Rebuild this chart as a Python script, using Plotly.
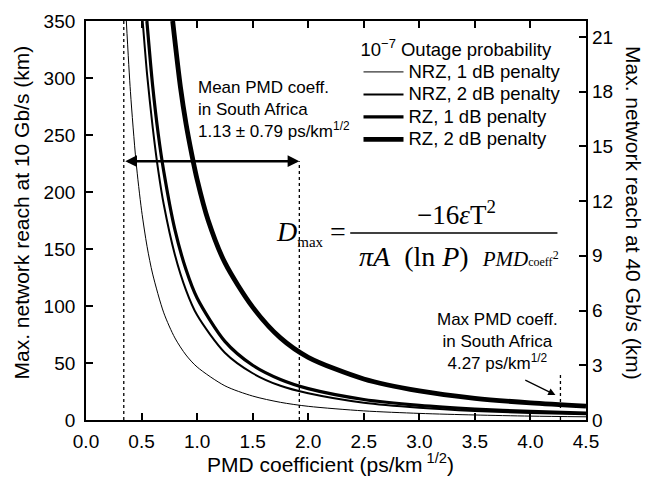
import plotly.graph_objects as go

# ---------------- data ----------------
pmd_nrz1 = [0.363, 0.40, 0.45, 0.50, 0.55, 0.60, 0.70, 0.80, 0.90, 1.00, 1.25, 1.50, 1.75, 2.00, 2.50, 3.00, 3.50, 4.00, 4.50]
reach_nrz1 = [350, 288, 227, 184, 152, 128, 94, 72, 57, 46.5, 30, 21, 15.5, 12, 8, 5.8, 4.4, 3.4, 2.8]

pmd_nrz2 = [0.510, 0.55, 0.60, 0.65, 0.70, 0.80, 0.90, 1.00, 1.25, 1.50, 1.75, 2.00, 2.50, 3.00, 3.50, 4.00, 4.50]
reach_nrz2 = [350, 303, 257, 219, 189, 145, 114, 92, 59, 41, 30, 23.5, 15.2, 10.8, 8.0, 6.2, 5.0]

pmd_rz1 = [0.548, 0.60, 0.65, 0.70, 0.80, 0.90, 1.00, 1.25, 1.50, 1.75, 2.00, 2.50, 3.00, 3.50, 4.00, 4.50]
reach_rz1 = [350, 293, 251, 218, 167, 132, 107, 69, 48, 35.5, 27.5, 18, 12.8, 9.6, 7.5, 6.0]

pmd_rz2 = [0.780, 0.85, 0.90, 0.95, 1.00, 1.10, 1.25, 1.50, 1.75, 2.00, 2.50, 3.00, 3.50, 4.00, 4.50]
reach_rz2 = [350, 292, 260, 234, 211, 175, 138, 99, 72, 55, 36, 25.5, 19, 15, 12.2]

series_names = ["NRZ, 1 dB penalty", "NRZ, 2 dB penalty", "RZ, 1 dB penalty", "RZ, 2 dB penalty"]

mean_pmd = 1.13
std_pmd = 0.79
max_pmd = 4.27
arrow_level = 227      # km, level of the mean +/- std arrow
max_line_top = 42      # km, top of the max-PMD dotted marker

x_ticks = [0.0, 0.5, 1.0, 1.5, 2.0, 2.5, 3.0, 3.5, 4.0, 4.5]
x_ticklabels = ["0.0", "0.5", "1.0", "1.5", "2.0", "2.5", "3.0", "3.5", "4.0", "4.5"]
y_ticks = [0, 50, 100, 150, 200, 250, 300, 350]
y2_ticks = [0, 3, 6, 9, 12, 15, 18, 21]
reach_ratio = 16       # 40 Gb/s reach = 10 Gb/s reach / 16

# ---------------- styling ----------------
SANS = "Liberation Sans, Arial, Helvetica, sans-serif"
SERIF = "Liberation Serif, Times New Roman, serif"
widths = [1.0, 2.0, 3.2, 4.8]

fig = go.Figure()

for xs, ys, name, w in zip([pmd_nrz1, pmd_nrz2, pmd_rz1, pmd_rz2],
                           [reach_nrz1, reach_nrz2, reach_rz1, reach_rz2],
                           series_names, widths):
    fig.add_trace(go.Scatter(x=xs, y=ys, mode="lines",
                             name="<span style='font-size:18.5px'>" + name + "</span>",
                             line=dict(color="black", width=w, shape="spline", smoothing=0.8)))

lo = mean_pmd - std_pmd
hi = mean_pmd + std_pmd
dot = dict(color="black", width=1.3, dash="dot")
fig.add_trace(go.Scatter(x=[lo, lo], y=[0, 350], mode="lines", line=dot, showlegend=False, hoverinfo="skip"))
fig.add_trace(go.Scatter(x=[hi, hi], y=[0, arrow_level], mode="lines", line=dot, showlegend=False, hoverinfo="skip"))
fig.add_trace(go.Scatter(x=[max_pmd, max_pmd], y=[0, max_line_top], mode="lines", line=dot, showlegend=False, hoverinfo="skip"))

# invisible trace for the right-hand axis
fig.add_trace(go.Scatter(x=[0, 4.5], y=[0, 350 / reach_ratio], yaxis="y2", mode="lines",
                         line=dict(width=0, color="rgba(0,0,0,0)"), showlegend=False, hoverinfo="skip"))

annotations = []
# mean +/- std double arrow
annotations.append(dict(x=hi, y=arrow_level, ax=lo, ay=arrow_level, xref="x", yref="y", axref="x", ayref="y",
                        text="", showarrow=True, arrowhead=2, startarrowhead=2, arrowside="end+start",
                        arrowwidth=2.6, arrowsize=0.9, startarrowsize=0.9, arrowcolor="black"))
# mean text
annotations.append(dict(x=1.0, y=301, xref="x", yref="y", xanchor="left", yanchor="top", align="left",
                        showarrow=False, borderpad=0,
                        text="Mean PMD coeff.<br>in South Africa<br>1.13 ± 0.79 ps/km<sup>1/2</sup>",
                        font=dict(family=SANS, size=17, color="black")))
# max text
annotations.append(dict(x=3.70, y=97, xref="x", yref="y", xanchor="center", yanchor="top", align="center",
                        showarrow=False, borderpad=0,
                        text="Max PMD coeff.<br>in South Africa<br>4.27 ps/km<sup>1/2</sup>",
                        font=dict(family=SANS, size=17, color="black")))
# max arrow
annotations.append(dict(x=4.225, y=22, ax=3.94, ay=35.6, xref="x", yref="y", axref="x", ayref="y",
                        text="", showarrow=True, arrowhead=2, arrowwidth=1.2, arrowsize=1.2, arrowcolor="black"))

# formula
annotations.append(dict(x=2.36, y=164, xref="x", yref="y", xanchor="right", yanchor="middle", showarrow=False,
                        text="<i>D</i><sub><span style='font-size:15px'>max</span></sub> =",
                        font=dict(family=SERIF, size=28, color="black")))
annotations.append(dict(x=3.33, y=182, xref="x", yref="y", xanchor="center", yanchor="middle", showarrow=False,
                        text="−16<i>ε</i>T<sup>2</sup>",
                        font=dict(family=SERIF, size=27, color="black")))
annotations.append(dict(x=3.36, y=143, xref="x", yref="y", xanchor="center", yanchor="middle", showarrow=False,
                        text="<i>πA</i>  (ln <i>P</i>)  <span style='font-size:21px'><i>PMD</i></span>"
                             "<span style='font-size:12px'>coeff</span><span style='font-size:17px'><sup>2</sup></span>",
                        font=dict(family=SERIF, size=28, color="black")))

# axis titles
annotations.append(dict(x=-0.128, y=0.52, xref="paper", yref="paper", xanchor="center", yanchor="middle",
                        showarrow=False, textangle=-90, text="Max. network reach at 10 Gb/s (km)",
                        font=dict(family=SANS, size=21, color="black")))
annotations.append(dict(x=1.095, y=0.52, xref="paper", yref="paper", xanchor="center", yanchor="middle",
                        showarrow=False, textangle=90, text="Max. network reach at 40 Gb/s (km)",
                        font=dict(family=SANS, size=21, color="black")))
annotations.append(dict(x=0.489, y=-0.108, xref="paper", yref="paper", xanchor="center", yanchor="middle",
                        showarrow=False, text="PMD coefficient (ps/km<sup> 1/2</sup>)",
                        font=dict(family=SANS, size=21, color="black")))

shapes = [dict(type="line", xref="x", yref="y", x0=2.378, x1=4.243, y0=164, y1=164,
               line=dict(color="black", width=1.5))]

axis_common = dict(showgrid=False, zeroline=False, ticks="inside", ticklen=7, tickwidth=1.5,
                   tickcolor="black", linecolor="black", linewidth=1.8, showline=True,
                   tickfont=dict(family=SANS, size=19, color="black"))

fig.update_layout(
    width=648, height=483,
    margin=dict(l=86, r=62, t=21, b=63),
    paper_bgcolor="white", plot_bgcolor="white",
    showlegend=True,
    legend=dict(x=0.545, y=0.962, xanchor="left", yanchor="top", bgcolor="rgba(0,0,0,0)",
                borderwidth=0, font=dict(family=SANS, size=15, color="black"),
                title=dict(text="<span style='font-size:18.5px'>10<sup>−7</sup> Outage probability</span>",
                           font=dict(family=SANS, size=15, color="black")),
                itemwidth=40, tracegroupgap=0),
    xaxis=dict(range=[0, 4.5], tickvals=x_ticks, ticktext=x_ticklabels, mirror="ticks",
               ticklabelstandoff=3, **axis_common),
    yaxis=dict(range=[0, 350], tickvals=y_ticks, mirror=True, ticklabelstandoff=5, **axis_common),
    yaxis2=dict(range=[0, 350 / reach_ratio], tickvals=y2_ticks, overlaying="y", side="right",
                showgrid=False, zeroline=False, ticks="inside", ticklen=7, tickwidth=1.5, tickcolor="black",
                showline=False, ticklabelstandoff=5,
                tickfont=dict(family=SANS, size=19, color="black")),
    annotations=annotations,
    shapes=shapes,
)

fig.write_html("out.html", config={"displayModeBar": False},
               post_script="document.body.style.margin='0px';document.body.style.overflow='hidden';")
